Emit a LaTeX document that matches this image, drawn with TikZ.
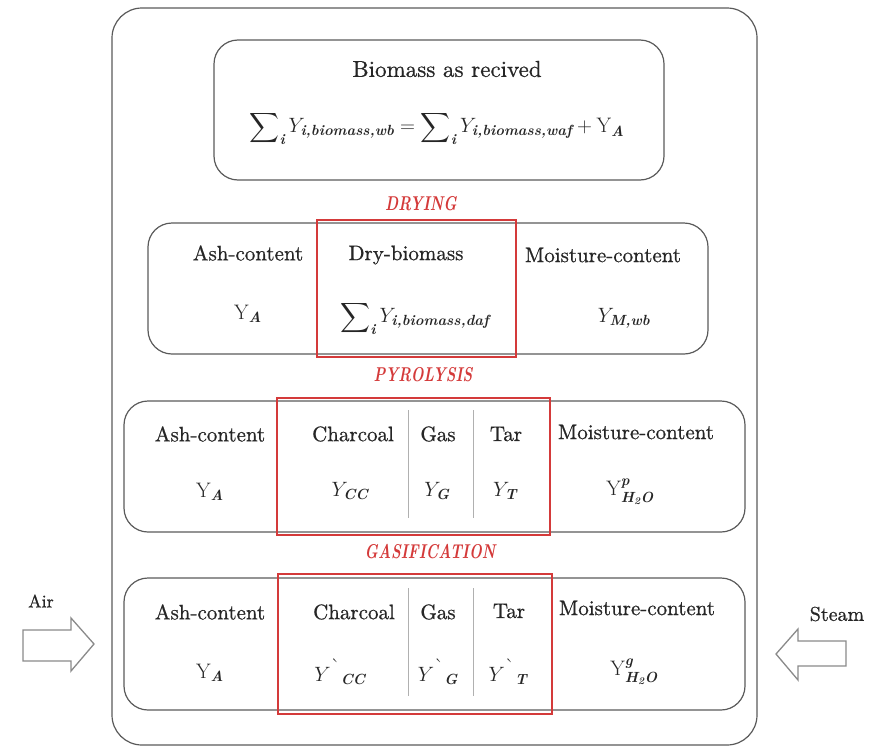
\documentclass[tikz,border=0pt]{standalone}
\usepackage{amsmath}
\usepackage{exscale}
\usepackage{fontspec}
\newfontface\lbf{lmroman10-regular.otf}[FakeBold=0.8]
\definecolor{boxgray}{HTML}{5A5A5A}
\definecolor{arrowgray}{HTML}{8A8A8A}
\definecolor{redc}{HTML}{D43A3A}
\definecolor{sepgray}{HTML}{B0B0B0}
\definecolor{txt}{HTML}{262626}
\newcommand{\gravemark}{^{\mbox{\`{}}}{}}
\newcommand{\bsub}[1]{\text{\normalfont\bfseries\itshape #1}}
\begin{document}
\begin{tikzpicture}[x=1pt,y=-1pt,
  box/.style={draw=boxgray, line width=1.2pt, rounded corners=24pt},
  redbox/.style={draw=redc, line width=1.4pt},
  sepline/.style={draw=sepgray, line width=1pt},
  lbl/.style={font=\fontsize{21}{23}\selectfont\lbf, text=txt, inner sep=0pt},
  mathlbl/.style={font=\fontsize{21}{23}\selectfont, text=txt, inner sep=0pt},
  titlelbl/.style={font=\fontsize{23}{25}\selectfont\lbf, text=txt, inner sep=0pt},
  airlbl/.style={font=\fontsize{18}{20}\selectfont\lbf, text=txt, inner sep=0pt},
  steamlbl/.style={font=\fontsize{20}{22}\selectfont\lbf, text=txt, inner sep=0pt},
  stagelbl/.style={font=\fontsize{20}{22}\selectfont\bfseries\itshape, text=redc, inner sep=0pt},
  blockarrow/.style={draw=arrowgray, line width=1.3pt, line join=miter, fill=white}]
\useasboundingbox (0,0) rectangle (889,747);
% outer frame
\draw[draw=boxgray, line width=1.2pt, rounded corners=30pt] (112,8) rectangle (757,745);

% top box
\draw[box] (214,40) rectangle (664,180);
\node[titlelbl] (bar) at (447,69) {Biomass as recived};
\node[mathlbl] (eq) at (437,128) {$\displaystyle\sum\nolimits_{\bsub{i}} Y_{\bsub{i,biomass,wb}} = \sum\nolimits_{\bsub{i}} Y_{\bsub{i,biomass,waf}} + \mathrm{Y}_{\bsub{A}}$};

% drying
\node[stagelbl] (drying) at (421,204) {\scalebox{0.75}[1]{DRYING}};
\draw[box] (148,223) rectangle (708,354);
\draw[redbox] (317,220) rectangle (516,357);
\node[lbl] (dash) at (248,253) {Ash-content};
\node[mathlbl] (dya) at (248,314) {$\mathrm{Y}_{\bsub{A}}$};
\node[lbl] (ddb) at (406,255) {Dry-biomass};
\node[mathlbl] (dsum) at (415,318) {$\displaystyle\sum\nolimits_{\bsub{i}} Y_{\bsub{i,biomass,daf}}$};
\node[lbl] (dmc) at (603,255) {Moisture-content};
\node[mathlbl] (dym) at (624,318) {$Y_{\bsub{M,wb}}$};

% pyrolysis
\node[stagelbl] (pyro) at (423,375) {\scalebox{0.75}[1]{PYROLYSIS}};
\draw[box] (124,401) rectangle (745,532);
\draw[redbox] (277,398) rectangle (550,535);
\draw[sepline] (408,410) -- (408,518);
\draw[sepline] (473,410) -- (473,518);
\node[lbl] (pash) at (210,434) {Ash-content};
\node[mathlbl] (pya) at (210,492) {$\mathrm{Y}_{\bsub{A}}$};
\node[lbl] (pch) at (353,434) {Charcoal};
\node[mathlbl] (pycc) at (350,491) {$Y_{\bsub{CC}}$};
\node[lbl] (pgas) at (438,434) {Gas};
\node[mathlbl] (pyg) at (437,491) {$Y_{\bsub{G}}$};
\node[lbl] (ptar) at (506,434) {Tar};
\node[mathlbl] (pyt) at (505,491) {$Y_{\bsub{T}}$};
\node[lbl] (pmc) at (636,432) {Moisture-content};
\node[mathlbl] (pyw) at (630,492) {$\mathrm{Y}^{\bsub{p}}_{\bsub{H\textsubscript{2}O}}$};

% gasification
\node[stagelbl] (gasi) at (430,552) {\scalebox{0.75}[1]{GASIFICATION}};
\draw[box] (124,578) rectangle (745,710);
\draw[redbox] (278,574) rectangle (552,714);
\draw[sepline] (408,588) -- (408,696);
\draw[sepline] (473,588) -- (473,696);
\node[lbl] (gash) at (210,612) {Ash-content};
\node[mathlbl] (gya) at (210,673) {$\mathrm{Y}_{\bsub{A}}$};
\node[lbl] (gch) at (354,612) {Charcoal};
\node[mathlbl] (gycc) at (340,672) {$Y\gravemark_{\bsub{CC}}$};
\node[lbl] (ggas) at (438,612) {Gas};
\node[mathlbl] (gyg) at (438,672) {$Y\gravemark_{\bsub{G}}$};
\node[lbl] (gtar) at (509,611) {Tar};
\node[mathlbl] (gyt) at (508,672) {$Y\gravemark_{\bsub{T}}$};
\node[lbl] (gmc) at (637,608) {Moisture-content};
\node[mathlbl] (gyw) at (634,672) {$\mathrm{Y}^{\bsub{g}}_{\bsub{H\textsubscript{2}O}}$};

% inputs
\node[airlbl] (air) at (41,601) {Air};
\draw[blockarrow] (23,630) -- (71,630) -- (71,618) -- (94,644) -- (71,671) -- (71,661) -- (23,661) -- cycle;
\node[steamlbl] (steam) at (837,614) {Steam};
\draw[blockarrow] (846,641) -- (798,641) -- (798,629) -- (776,654) -- (798,680) -- (798,666) -- (846,666) -- cycle;
\end{tikzpicture}
\end{document}
